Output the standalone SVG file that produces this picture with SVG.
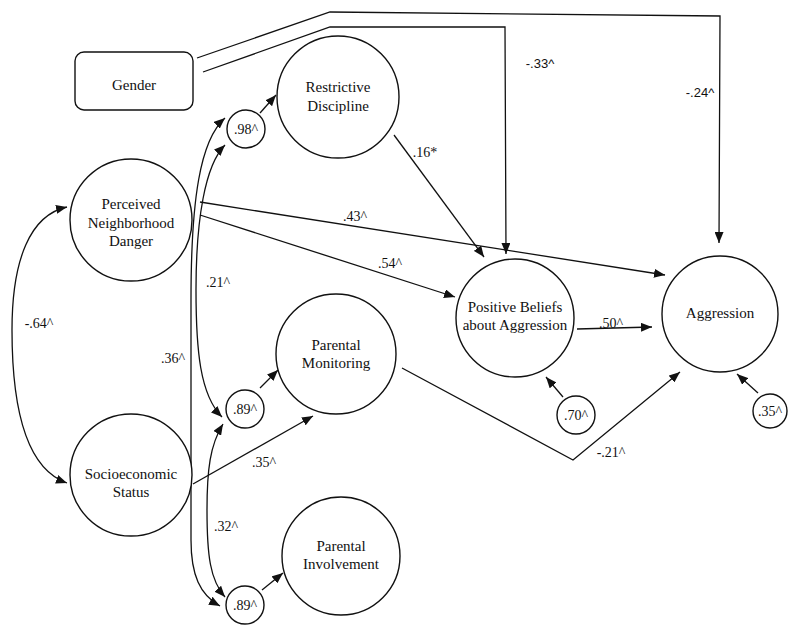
<svg xmlns="http://www.w3.org/2000/svg" width="800" height="630" viewBox="0 0 800 630">
<style>
.n{fill:#fff;stroke:#111;stroke-width:1.4}
.c{fill:none;stroke:#111;stroke-width:1.3}
.t{font-size:15px;fill:#111;text-anchor:middle}
.l{font-size:14px;fill:#111;text-anchor:middle}
.s{font-size:13px;fill:#111;text-anchor:middle}
</style>
<defs>
<marker id="a" markerUnits="userSpaceOnUse" markerWidth="11" markerHeight="9" refX="11" refY="4.5" orient="auto-start-reverse" viewBox="0 0 11 9">
<path d="M0,0 L11,4.5 L0,9 z" fill="#111"/>
</marker>
</defs>
<rect width="800" height="630" fill="#fff"/>
<g id="connectors">
<path class="c" d="M197 58 L330 12 L720 16 L719 243" marker-end="url(#a)"/>
<path class="c" d="M203 72 L330 27 L505 27 L506 254" marker-end="url(#a)"/>
<path class="c" d="M394 135 L484 257" marker-end="url(#a)"/>
<path class="c" d="M200 202 L665 275" marker-end="url(#a)"/>
<path class="c" d="M200 215 L455 297" marker-end="url(#a)"/>
<path class="c" d="M577 329 L652 327" marker-end="url(#a)"/>
<path class="c" d="M402 368 L573 460 L680 372" marker-end="url(#a)"/>
<path class="c" d="M193 484 L313 416" marker-end="url(#a)"/>
<path class="c" d="M260 113 L276 95" marker-end="url(#a)"/>
<path class="c" d="M260 388 L278 370" marker-end="url(#a)"/>
<path class="c" d="M262 590 L283 573" marker-end="url(#a)"/>
<path class="c" d="M563 397 L546 377" marker-end="url(#a)"/>
<path class="c" d="M758 393 L737 374" marker-end="url(#a)"/>
<path class="c" d="M67 207 C30 215,12 260,12 330 C12 420,30 470,67 483" marker-start="url(#a)" marker-end="url(#a)"/>
<path class="c" d="M225 118 C200 140,191 200,191 300 L191 540 C191 575,200 595,220 606" marker-start="url(#a)" marker-end="url(#a)"/>
<path class="c" d="M225 145 C205 165,196 220,196 290 C196 350,200 395,222 417" marker-start="url(#a)" marker-end="url(#a)"/>
<path class="c" d="M223 424 C210 445,207 470,207 510 C207 555,210 580,225 597" marker-start="url(#a)" marker-end="url(#a)"/>
</g>
<g id="labels" font-family="'Liberation Serif', 'Times New Roman', serif">
<text class="s" x="540" y="68" font-family="'Liberation Sans', Arial, sans-serif">-.33^</text>
<text class="s" x="700" y="97" font-family="'Liberation Sans', Arial, sans-serif">-.24^</text>
<text class="l" x="425" y="157">.16*</text>
<text class="l" x="355" y="221">.43^</text>
<text class="l" x="390" y="268">.54^</text>
<text class="l" x="611" y="328">.50^</text>
<text class="l" x="611" y="457">-.21^</text>
<text class="l" x="264" y="467">.35^</text>
<text class="l" x="39" y="328">-.64^</text>
<text class="l" x="218" y="287">.21^</text>
<text class="l" x="173" y="363">.36^</text>
<text class="l" x="226" y="531">.32^</text>
</g>
<g font-family="'Liberation Serif', 'Times New Roman', serif">
<g id="gender">
<rect class="n" x="75" y="52" width="118" height="58" rx="9"/>
<text class="t" x="134" y="90">Gender</text>
</g>
<g id="restrictive">
<circle class="n" cx="338" cy="97" r="61"/>
<text class="t" x="338" y="92">Restrictive</text>
<text class="t" x="338" y="111">Discipline</text>
</g>
<g id="pnd">
<circle class="n" cx="131" cy="220" r="61"/>
<text class="t" x="131" y="209">Perceived</text>
<text class="t" x="131" y="228">Neighborhood</text>
<text class="t" x="131" y="246">Danger</text>
</g>
<g id="ses">
<circle class="n" cx="131" cy="475" r="61"/>
<text class="t" x="131" y="479">Socioeconomic</text>
<text class="t" x="131" y="497">Status</text>
</g>
<g id="monitoring">
<circle class="n" cx="336" cy="354" r="60"/>
<text class="t" x="336" y="350">Parental</text>
<text class="t" x="336" y="368">Monitoring</text>
</g>
<g id="involvement">
<circle class="n" cx="341" cy="556" r="59"/>
<text class="t" x="341" y="551">Parental</text>
<text class="t" x="341" y="569">Involvement</text>
</g>
<g id="beliefs">
<circle class="n" cx="515" cy="318" r="59"/>
<text class="t" x="515" y="312">Positive Beliefs</text>
<text class="t" x="515" y="330">about Aggression</text>
</g>
<g id="aggression">
<circle class="n" cx="720" cy="314" r="58"/>
<text class="t" x="720" y="318">Aggression</text>
</g>
<g id="e_rd">
<circle class="n" cx="246" cy="129" r="19"/>
<text class="l" x="246" y="134">.98^</text>
</g>
<g id="e_pm">
<circle class="n" cx="245" cy="409" r="19"/>
<text class="l" x="245" y="414">.89^</text>
</g>
<g id="e_pi">
<circle class="n" cx="245" cy="605" r="19"/>
<text class="l" x="245" y="610">.89^</text>
</g>
<g id="e_pb">
<circle class="n" cx="576" cy="415" r="19"/>
<text class="l" x="576" y="420">.70^</text>
</g>
<g id="e_ag">
<circle class="n" cx="770" cy="411" r="17"/>
<text class="l" x="770" y="416">.35^</text>
</g>
</g>
</svg>
